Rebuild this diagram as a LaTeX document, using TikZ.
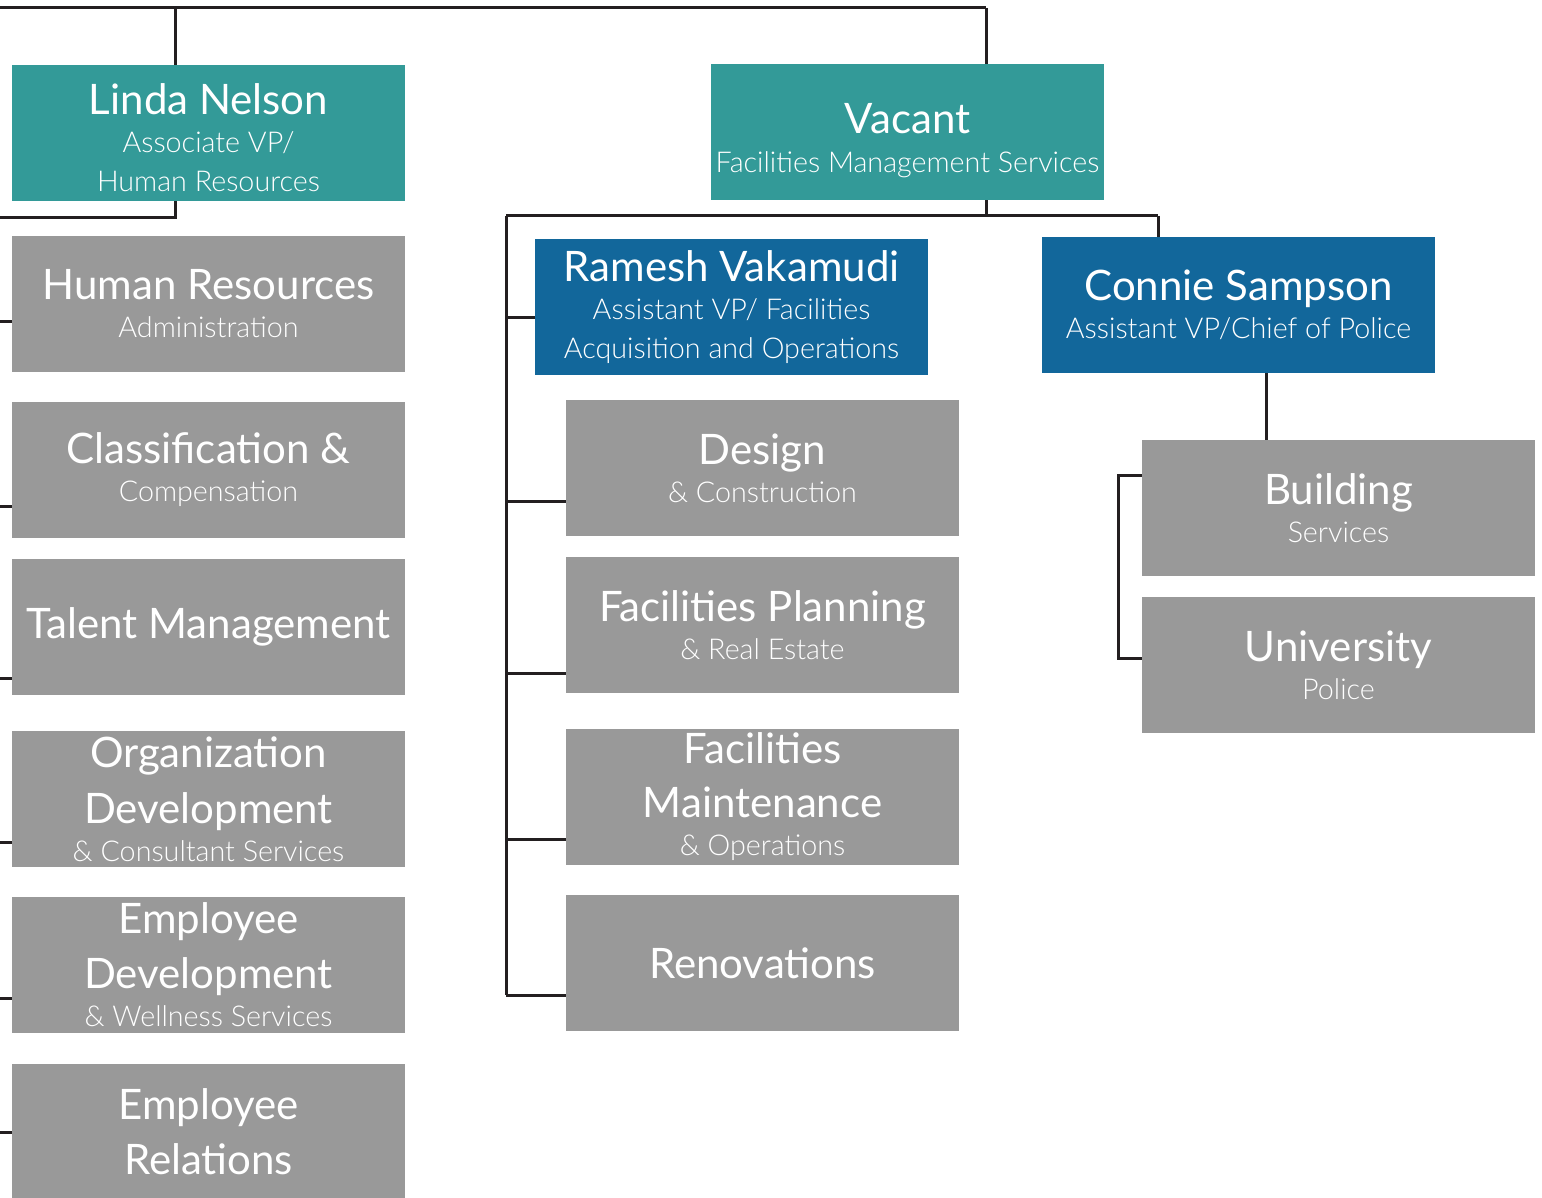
\documentclass[tikz,border=0pt]{standalone}
\usepackage{fontspec}
\setmainfont{Lato}
\newfontfamily\lightf{Lato Light}
\definecolor{tealc}{HTML}{339A98}
\definecolor{bluec}{HTML}{12679B}
\definecolor{grayc}{HTML}{999999}
\definecolor{linec}{HTML}{231F20}
\newcommand{\ttl}{\fontsize{42}{38}\selectfont}
\newcommand{\sbt}{\lightf\fontsize{28.7}{38}\selectfont}
\tikzset{
  box/.style={anchor=north west, minimum width=393pt, minimum height=136pt, inner sep=0pt, outer sep=0pt, text=white, align=center, font=\fontsize{42}{38}\selectfont},
  tealbox/.style={box, fill=tealc},
  bluebox/.style={box, fill=bluec},
  graybox/.style={box, fill=grayc},
  conn/.style={draw=linec, line width=3pt}
}
\begin{document}
\begin{tikzpicture}[x=1pt,y=-1pt]
\useasboundingbox (0,0) rectangle (1542,1198);
% coordinates for connector bends
\coordinate (edgeTop) at (0,8);
\coordinate (topL) at (175,8);
\coordinate (topR) at (986,8);
\coordinate (hrBend) at (175,218);
\coordinate (hrEdge) at (0,218);
\coordinate (hrSpine) at (0,0);
\coordinate (fmBar) at (986,216);
\coordinate (fmLeft) at (506,216);
\coordinate (fmRight) at (1158,216);
\coordinate (fmBottom) at (506,995);
\coordinate (cpDrop) at (1266,0);
\coordinate (bsSpine) at (1118,0);
% connectors behind boxes
\draw[conn] (edgeTop) -- (topR);
\draw[conn] (topL) -- (hrBend) -- (hrEdge);
\draw[conn] (topR) -- (fmBar);
\draw[conn] (fmLeft) -- (fmRight);
\draw[conn] (fmLeft) -- (fmBottom);
% boxes
\node[tealbox] (lnelson) at (12,65) {\ttl\rule{0pt}{40pt}Linda Nelson\\\sbt Associate VP/\\[1pt]\sbt Human Resources};
\node[tealbox] (vacant) at (711,64) {\ttl\rule{0pt}{48pt}Vacant\\[1pt]\sbt Facilities Management Services};
\node[graybox] (hradmin) at (12,236) {\ttl Human Resources\\\sbt Administration};
\node[graybox] (classif) at (12,402) {\ttl Classification \&\\\sbt Compensation};
\node[graybox] (talent) at (12,559) {\ttl Talent Management};
\node[graybox] (orgdev) at (12,731) {\ttl Organization\\[16pt]\ttl Development\\\sbt \& Consultant Services};
\node[graybox] (empdev) at (12,897) {\ttl Employee\\[16pt]\ttl Development\\\sbt \& Wellness Services};
\node[graybox] (emprel) at (12,1064) {\ttl Employee\\[16pt]\ttl Relations};
\node[bluebox] (ramesh) at (535,239) {\ttl Ramesh Vakamudi\\\sbt Assistant VP/ Facilities\\[1pt]\sbt Acquisition and Operations};
\node[graybox] (design) at (566,400) {\ttl Design\\\sbt \& Construction};
\node[graybox] (fplan) at (566,557) {\ttl Facilities Planning\\\sbt \& Real Estate};
\node[graybox] (fmaint) at (566,729) {\ttl Facilities\\[16pt]\ttl Maintenance\\\sbt \& Operations};
\node[graybox] (renov) at (566,895) {\ttl Renovations};
\node[bluebox] (connie) at (1042,237) {\ttl Connie Sampson\\\sbt Assistant VP/Chief of Police};
\node[graybox] (building) at (1142,440) {\ttl Building\\\sbt Services};
\node[graybox] (upolice) at (1142,597) {\ttl University\\\sbt Police};
% connectors to boxes
\draw[conn] (fmRight) -- (connie.north -| fmRight);
\draw[conn] (connie.south -| cpDrop) -- (building.north -| cpDrop);
\draw[conn] (building.west |- 0,475) -- (bsSpine |- 0,475) -- (bsSpine |- 0,658) -- (upolice.west |- 0,658);
\draw[conn] (fmLeft |- 0,318) -- (ramesh.west |- 0,318);
\draw[conn] (fmLeft |- 0,501) -- (design.west |- 0,501);
\draw[conn] (fmLeft |- 0,673) -- (fplan.west |- 0,673);
\draw[conn] (fmLeft |- 0,839) -- (fmaint.west |- 0,839);
\draw[conn] (fmBottom) -- (renov.west |- fmBottom);
\draw[conn] (hrSpine |- 0,322) -- (hradmin.west |- 0,322);
\draw[conn] (hrSpine |- 0,506) -- (classif.west |- 0,506);
\draw[conn] (hrSpine |- 0,678) -- (talent.west |- 0,678);
\draw[conn] (hrSpine |- 0,842) -- (orgdev.west |- 0,842);
\draw[conn] (hrSpine |- 0,998) -- (empdev.west |- 0,998);
\draw[conn] (hrSpine |- 0,1132) -- (emprel.west |- 0,1132);
\end{tikzpicture}
\end{document}
